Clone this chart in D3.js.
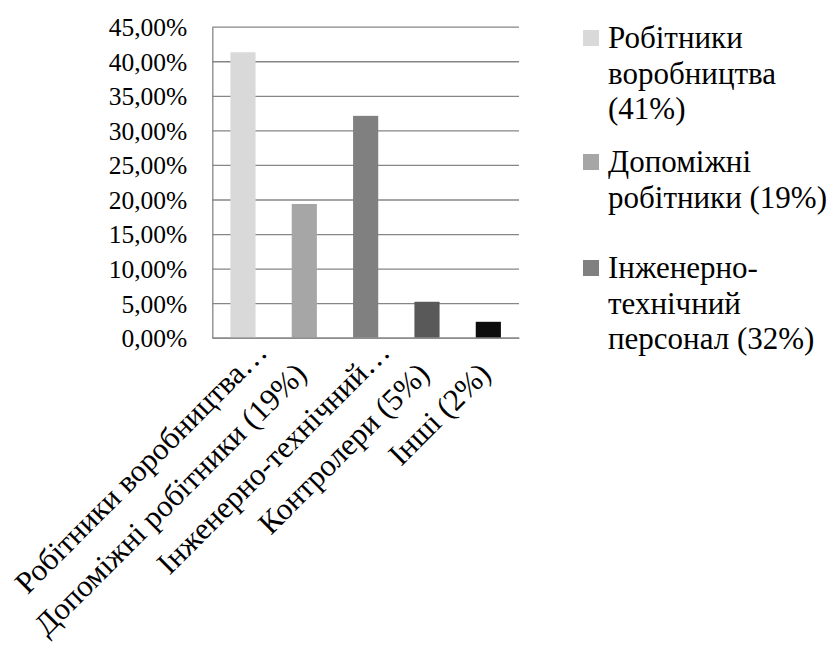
<!DOCTYPE html>
<html>
<head>
<meta charset="utf-8">
<script src="https://cdnjs.cloudflare.com/ajax/libs/d3/7.8.5/d3.min.js"></script>
<style>
  body { margin: 0; background: #fff; }
  svg text { font-family: "Times New Roman", "Liberation Serif", Times, serif; }
</style>
</head>
<body>
<div class="chart"></div>
<script>
// data
const categories = ["Робітники воробництва (41%)", "Допоміжні робітники (19%)",
    "Інженерно-технічний персонал (32%)", "Контролери (5%)", "Інші (2%)"];
const values = [41.3, 19.35, 32.1, 5.2, 2.3];
const barColors = ["#d9d9d9", "#a6a6a6", "#808080", "#595959", "#0d0d0d"];
// what the axis shows (long names were cut by the chart with an ellipsis)
const tickLabels = ["Робітники воробництва", "Допоміжні робітники (19%)",
    "Інженерно-технічний", "Контролери (5%)", "Інші (2%)"];
const tickCut = [true, false, true, false, false];
const yTicks = [0, 5, 10, 15, 20, 25, 30, 35, 40, 45];
// legend only had room for the first three entries
const legendLines = [
    ["Робітники", "воробництва", "(41%)"],
    ["Допоміжні", "робітники (19%)"],
    ["Інженерно-", "технічний", "персонал (32%)"]
];
const legendRows = [38, 162, 268];   // centre of each legend marker

let margin = { top: 26.7, left: 212.3 };
let width = 519 - margin.left;
let height = 337.7 - margin.top;

let svg = d3.select(".chart").append("svg")
    .attr("width", 834)
    .attr("height", 648);

let g = svg.append("g")
    .attr("transform", "translate(" + margin.left + "," + margin.top + ")");

let x = d3.scaleBand()
    .domain(categories)
    .range([0, width])
    .paddingInner(0.59)
    .paddingOuter(0.295);

let y = d3.scaleLinear()
    .domain([0, 45])
    .range([height, 0]);

const uaFormat = d3.formatLocale({ decimal: ",", thousands: " ", grouping: [3], currency: ["", ""] });
const pct = uaFormat.format(".2f");

// ===== y axis with gridlines =====
let yAxis = g.append("g")
    .attr("class", "y-axis")
    .call(d3.axisLeft(y)
        .tickValues(yTicks)
        .tickSize(-width)
        .tickSizeOuter(0)
        .tickPadding(25)
        .tickFormat(function (d) { return pct(d) + "%"; }));

yAxis.attr("font-family", null).attr("font-size", null);
yAxis.selectAll(".tick line")
    .attr("stroke", "#868686")
    .attr("stroke-width", 1.3);
yAxis.select(".domain")
    .attr("stroke", "#868686")
    .attr("stroke-width", 1.3);
yAxis.selectAll("text")
    .attr("font-size", 25.5)
    .attr("fill", "#000")
    .attr("dy", "0.35em");

// ===== bars =====
g.selectAll(".bar")
    .data(values)
    .enter().append("rect")
    .attr("class", "bar")
    .attr("x", function (d, i) { return x(categories[i]); })
    .attr("width", x.bandwidth())
    .attr("y", function (d) { return y(d); })
    .attr("height", function (d) { return height - y(d); })
    .attr("fill", function (d, i) { return barColors[i]; });

// ===== x axis =====
let xAxis = g.append("g")
    .attr("class", "x-axis")
    .attr("transform", "translate(0," + height + ")")
    .call(d3.axisBottom(x).tickSize(0).tickSizeOuter(0).tickFormat(""));

xAxis.attr("font-family", null).attr("font-size", null);
xAxis.select(".domain")
    .attr("stroke", "#868686")
    .attr("stroke-width", 1.3);

xAxis.selectAll(".tick").each(function (d, i) {
    let lab = d3.select(this).append("g")
        .attr("transform", "translate(4,38) rotate(-45)");
    lab.append("text")
        .attr("text-anchor", "end")
        .attr("font-size", 31)
        .attr("fill", "#000")
        .text(tickLabels[i]);
    if (tickCut[i]) {
        lab.append("text")
            .attr("text-anchor", "start")
            .attr("font-size", 31)
            .attr("fill", "#000")
            .text("…");
    }
});

// ===== legend =====
let legend = svg.append("g")
    .attr("class", "legend")
    .attr("transform", "translate(583,0)");

legendLines.forEach(function (lines, i) {
    let cy = legendRows[i];
    legend.append("rect")
        .attr("x", 0)
        .attr("y", cy - 8)
        .attr("width", 16)
        .attr("height", 16)
        .attr("fill", barColors[i]);
    let t = legend.append("text")
        .attr("x", 25)
        .attr("y", cy + 10)
        .attr("font-size", 31)
        .attr("fill", "#000");
    lines.forEach(function (line, j) {
        t.append("tspan")
            .attr("x", 25)
            .attr("dy", j == 0 ? 0 : 35.5)
            .text(line);
    });
});
</script>
</body>
</html>
